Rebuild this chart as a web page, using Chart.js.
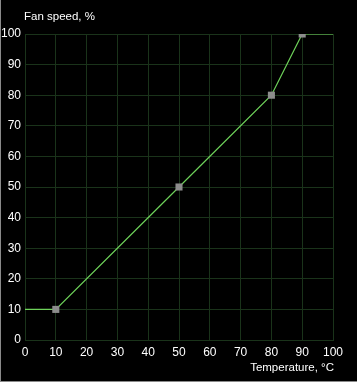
<!DOCTYPE html>
<html>
<head>
<meta charset="utf-8">
<script src="https://cdn.jsdelivr.net/npm/chart.js@4"></script>
<style>
  html, body { margin: 0; padding: 0; background: #000; }
  #wrap { position: relative; width: 357px; height: 382px; box-sizing: border-box;
          border-left: 1px solid #8a8a8a; border-bottom: 1px solid #8a8a8a; }
  canvas { display: block; }
</style>
</head>
<body>
<div id="wrap"><canvas id="fanChart" width="356" height="381"></canvas></div>
<script>
const temperatures = [0, 10, 50, 80, 90, 100];
const fanSpeeds = [10, 10, 50, 80, 100, 100];
const markerSizes = [0, 5, 5, 5, 5, 0];
const xTicks = [0, 10, 20, 30, 40, 50, 60, 70, 80, 90, 100];
const yTicks = [0, 10, 20, 30, 40, 50, 60, 70, 80, 90, 100];

const gridColor = '#1a331a';
const textFont = { family: 'Liberation Sans', size: 12 };

// axis titles drawn like the original tool: above y axis and under x axis, right side
const axisTitles = {
    id: 'axisTitles',
    afterDraw(chart) {
        const ctx = chart.ctx;
        const area = chart.chartArea;
        ctx.save();
        ctx.fillStyle = '#ffffff';
        ctx.font = '11.5px "Liberation Sans"';
        ctx.textBaseline = 'middle';
        ctx.textAlign = 'left';
        ctx.fillText('Fan speed, %', area.left - 1, 17);
        ctx.textAlign = 'right';
        ctx.fillText('Temperature, \u00B0C', area.right + 1, 368);
        ctx.restore();
    }
};

Chart.defaults.color = '#ffffff';

new Chart(document.getElementById('fanChart'), {
    type: 'scatter',
    data: {
        datasets: [{
            data: temperatures.map((t, i) => ({ x: t, y: fanSpeeds[i] })),
            showLine: true,
            borderColor: '#6ed25a',
            borderWidth: 1.2,
            pointStyle: 'rect',
            pointRadius: markerSizes,
            pointHoverRadius: markerSizes,
            pointBackgroundColor: '#8c8c8c',
            pointBorderWidth: 0
        }]
    },
    options: {
        responsive: false,
        animation: false,
        layout: { padding: { top: 34, right: 24, left: 0, bottom: 0 } },
        plugins: { legend: { display: false }, tooltip: { enabled: false } },
        scales: {
            x: {
                type: 'linear',
                min: 0,
                max: 100,
                afterBuildTicks: axis => { axis.ticks = xTicks.map(v => ({ value: v })); },
                afterFit: axis => { axis.height = 41; },
                grid: { color: gridColor, drawTicks: false },
                border: { color: gridColor },
                ticks: { color: '#ffffff', font: textFont, padding: 5, maxRotation: 0 }
            },
            y: {
                type: 'linear',
                min: 0,
                max: 100,
                afterBuildTicks: axis => { axis.ticks = yTicks.map(v => ({ value: v })); },
                afterFit: axis => { axis.width = 24; },
                grid: { color: gridColor, drawTicks: false },
                border: { color: gridColor },
                ticks: { color: '#ffffff', font: textFont, padding: 4 }
            }
        }
    },
    plugins: [axisTitles]
});
</script>
</body>
</html>
